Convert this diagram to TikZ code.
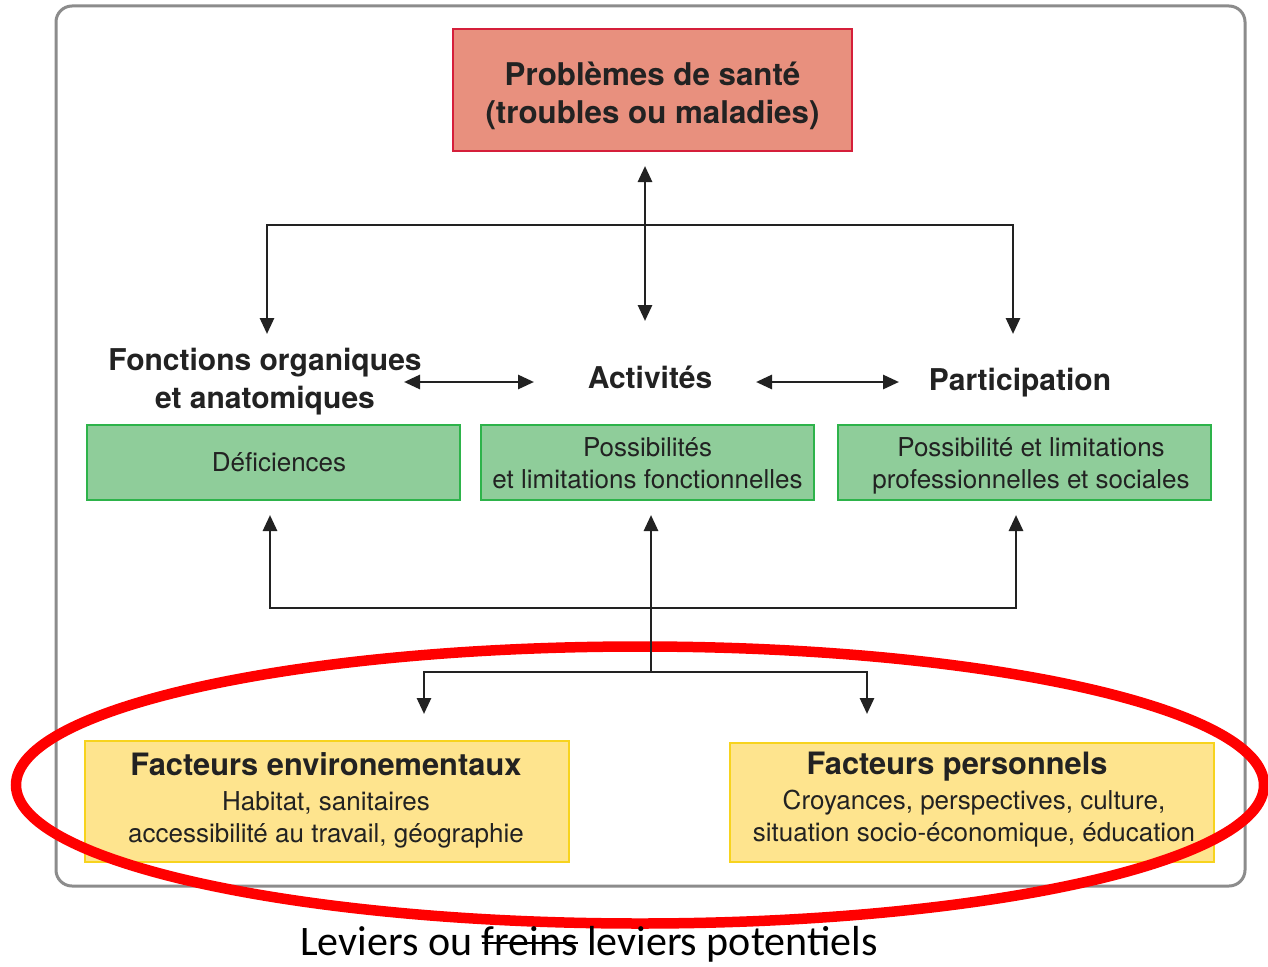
\documentclass[tikz,border=0pt]{standalone}
\usepackage{fontspec}
\setmainfont{TeX Gyre Heros}
\newfontfamily\capfont{Carlito}
\usetikzlibrary{arrows.meta}
\definecolor{redfill}{HTML}{E8907E}
\definecolor{redline}{HTML}{D51F3A}
\definecolor{greenfill}{HTML}{8FCD9A}
\definecolor{greenline}{HTML}{2DB34A}
\definecolor{yellowfill}{HTML}{FEE48E}
\definecolor{yellowline}{HTML}{F7D31E}
\definecolor{framegray}{HTML}{8C8C8C}
\definecolor{txt}{HTML}{222222}
\newcommand\strikeword[1]{\setbox0\hbox{#1}\rlap{\rule[0.27em]{\wd0}{0.055em}}\box0\relax}
\tikzset{
  conn/.style={line width=2.8pt, draw=txt},
  tip/.style={-{Triangle[length=16pt,width=14pt]}},
  dtip/.style={{Triangle[length=16pt,width=14pt]}-{Triangle[length=16pt,width=14pt]}},
  lab/.style={font=\bfseries\fontsize{30}{38}\selectfont, text=txt, align=center, inner sep=0pt},
  greenbox/.style={draw=greenline, fill=greenfill, line width=2.6pt, minimum height=75pt, inner sep=0pt},
  greentext/.style={text=txt, align=center, inner sep=0pt, font=\fontsize{26}{32}\selectfont},
  yellowbox/.style={draw=yellowline, fill=yellowfill, line width=2.6pt, inner sep=0pt},
  yellowtext/.style={text=txt, align=center, inner sep=0pt, font=\fontsize{26}{32.5}\selectfont},
}
\begin{document}
\begin{tikzpicture}[x=1pt,y=-1pt]
\useasboundingbox (0,0) rectangle (1268,966);
\fill[white] (0,0) rectangle (1268,966);
% frame
\draw[framegray, line width=3pt, rounded corners=16pt] (56,6) rectangle (1245,886);
% top box
\node[draw=redline, fill=redfill, line width=2.6pt, minimum width=399pt, minimum height=122pt,
  inner sep=0pt] (sante) at (652.5,90) {};
\node[inner sep=0pt, align=center, text=txt, font=\bfseries\fontsize{31.3}{38}\selectfont]
  (santeT) at (652.5,96) {Problèmes de santé\\(troubles ou maladies)};
% labels
\node[lab] (fonc) at (265,382) {Fonctions organiques\\et anatomiques};
\node[lab] (act) at (650,377) {Activités};
\node[lab] (part) at (1020,383) {Participation};
% green boxes
\node[greenbox, minimum width=373pt] (def) at (273.5,462.5) {};
\node[greenbox, minimum width=333pt] (poss) at (647.5,462.5) {};
\node[greenbox, minimum width=373pt] (prof) at (1024.5,462.5) {};
\node[greentext] (defT) at (279,462.5) {Déficiences};
\node[greentext] (possT) at (647.5,463.5) {Possibilités\\et limitations fonctionnelles};
\node[greentext] (profT) at (1031,465.5) {Possibilité et limitations\\professionnelles et sociales};
% yellow boxes
\node[yellowbox, minimum width=484pt, minimum height=121pt] (env) at (327,801.5) {};
\node[yellowbox, minimum width=484pt, minimum height=119pt] (pers) at (972,802.5) {};
\node[yellowtext] (envT) at (326,800.5)
  {{\bfseries\fontsize{30.8}{36}\selectfont Facteurs environementaux}\\[2pt]Habitat, sanitaires\\accessibilité au travail, géographie};
\node[yellowtext] (persT) at (974,800)
  {{\bfseries\fontsize{30.8}{36}\selectfont Facteurs personnels}\hspace*{34pt}\\[2pt]Croyances, perspectives, culture,\\situation socio-économique, éducation};
% red ellipse
\draw[red, line width=10.5pt] (640,785) ellipse [x radius=624pt, y radius=138.5pt];
% top connectors
\coordinate (tUp) at (645,166);
\coordinate (tDn) at (645,321);
\coordinate (hL) at (267,225);
\coordinate (hR) at (1013,225);
\coordinate (fTip) at (267,334);
\coordinate (pTip) at (1013,334);
\draw[conn, dtip] (tUp) -- (tDn);
\draw[conn, tip] (hR) -- (hL) -- (fTip);
\draw[conn, tip] (hL) -- (hR) -- (pTip);
% horizontal double arrows
\coordinate (a1) at (404,382); \coordinate (a2) at (534,382);
\coordinate (b1) at (756,382); \coordinate (b2) at (899,382);
\draw[conn, dtip] (a1) -- (a2);
\draw[conn, dtip] (b1) -- (b2);
% bottom connectors
\coordinate (dTip) at (270,515);
\coordinate (mTip) at (651,515);
\coordinate (rTip) at (1016,515);
\coordinate (bl) at (270,608);
\coordinate (br) at (1016,608);
\coordinate (mb) at (651,672);
\coordinate (jl) at (424,672);
\coordinate (jr) at (867,672);
\coordinate (eTip) at (424,714);
\coordinate (pTip2) at (867,714);
\draw[conn, tip] (br) -- (bl) -- (dTip);
\draw[conn, tip] (bl) -- (br) -- (rTip);
\draw[conn, tip] (mb) -- (mTip);
\draw[conn, tip] (jr) -- (jl) -- (eTip);
\draw[conn, tip] (jl) -- (jr) -- (pTip2);
% caption
\node[font=\capfont\fontsize{42}{46}\selectfont, inner sep=0pt, text=black] (cap) at (589,944)
  {Leviers ou \strikeword{freins} leviers potentiels};
\end{tikzpicture}
\end{document}
